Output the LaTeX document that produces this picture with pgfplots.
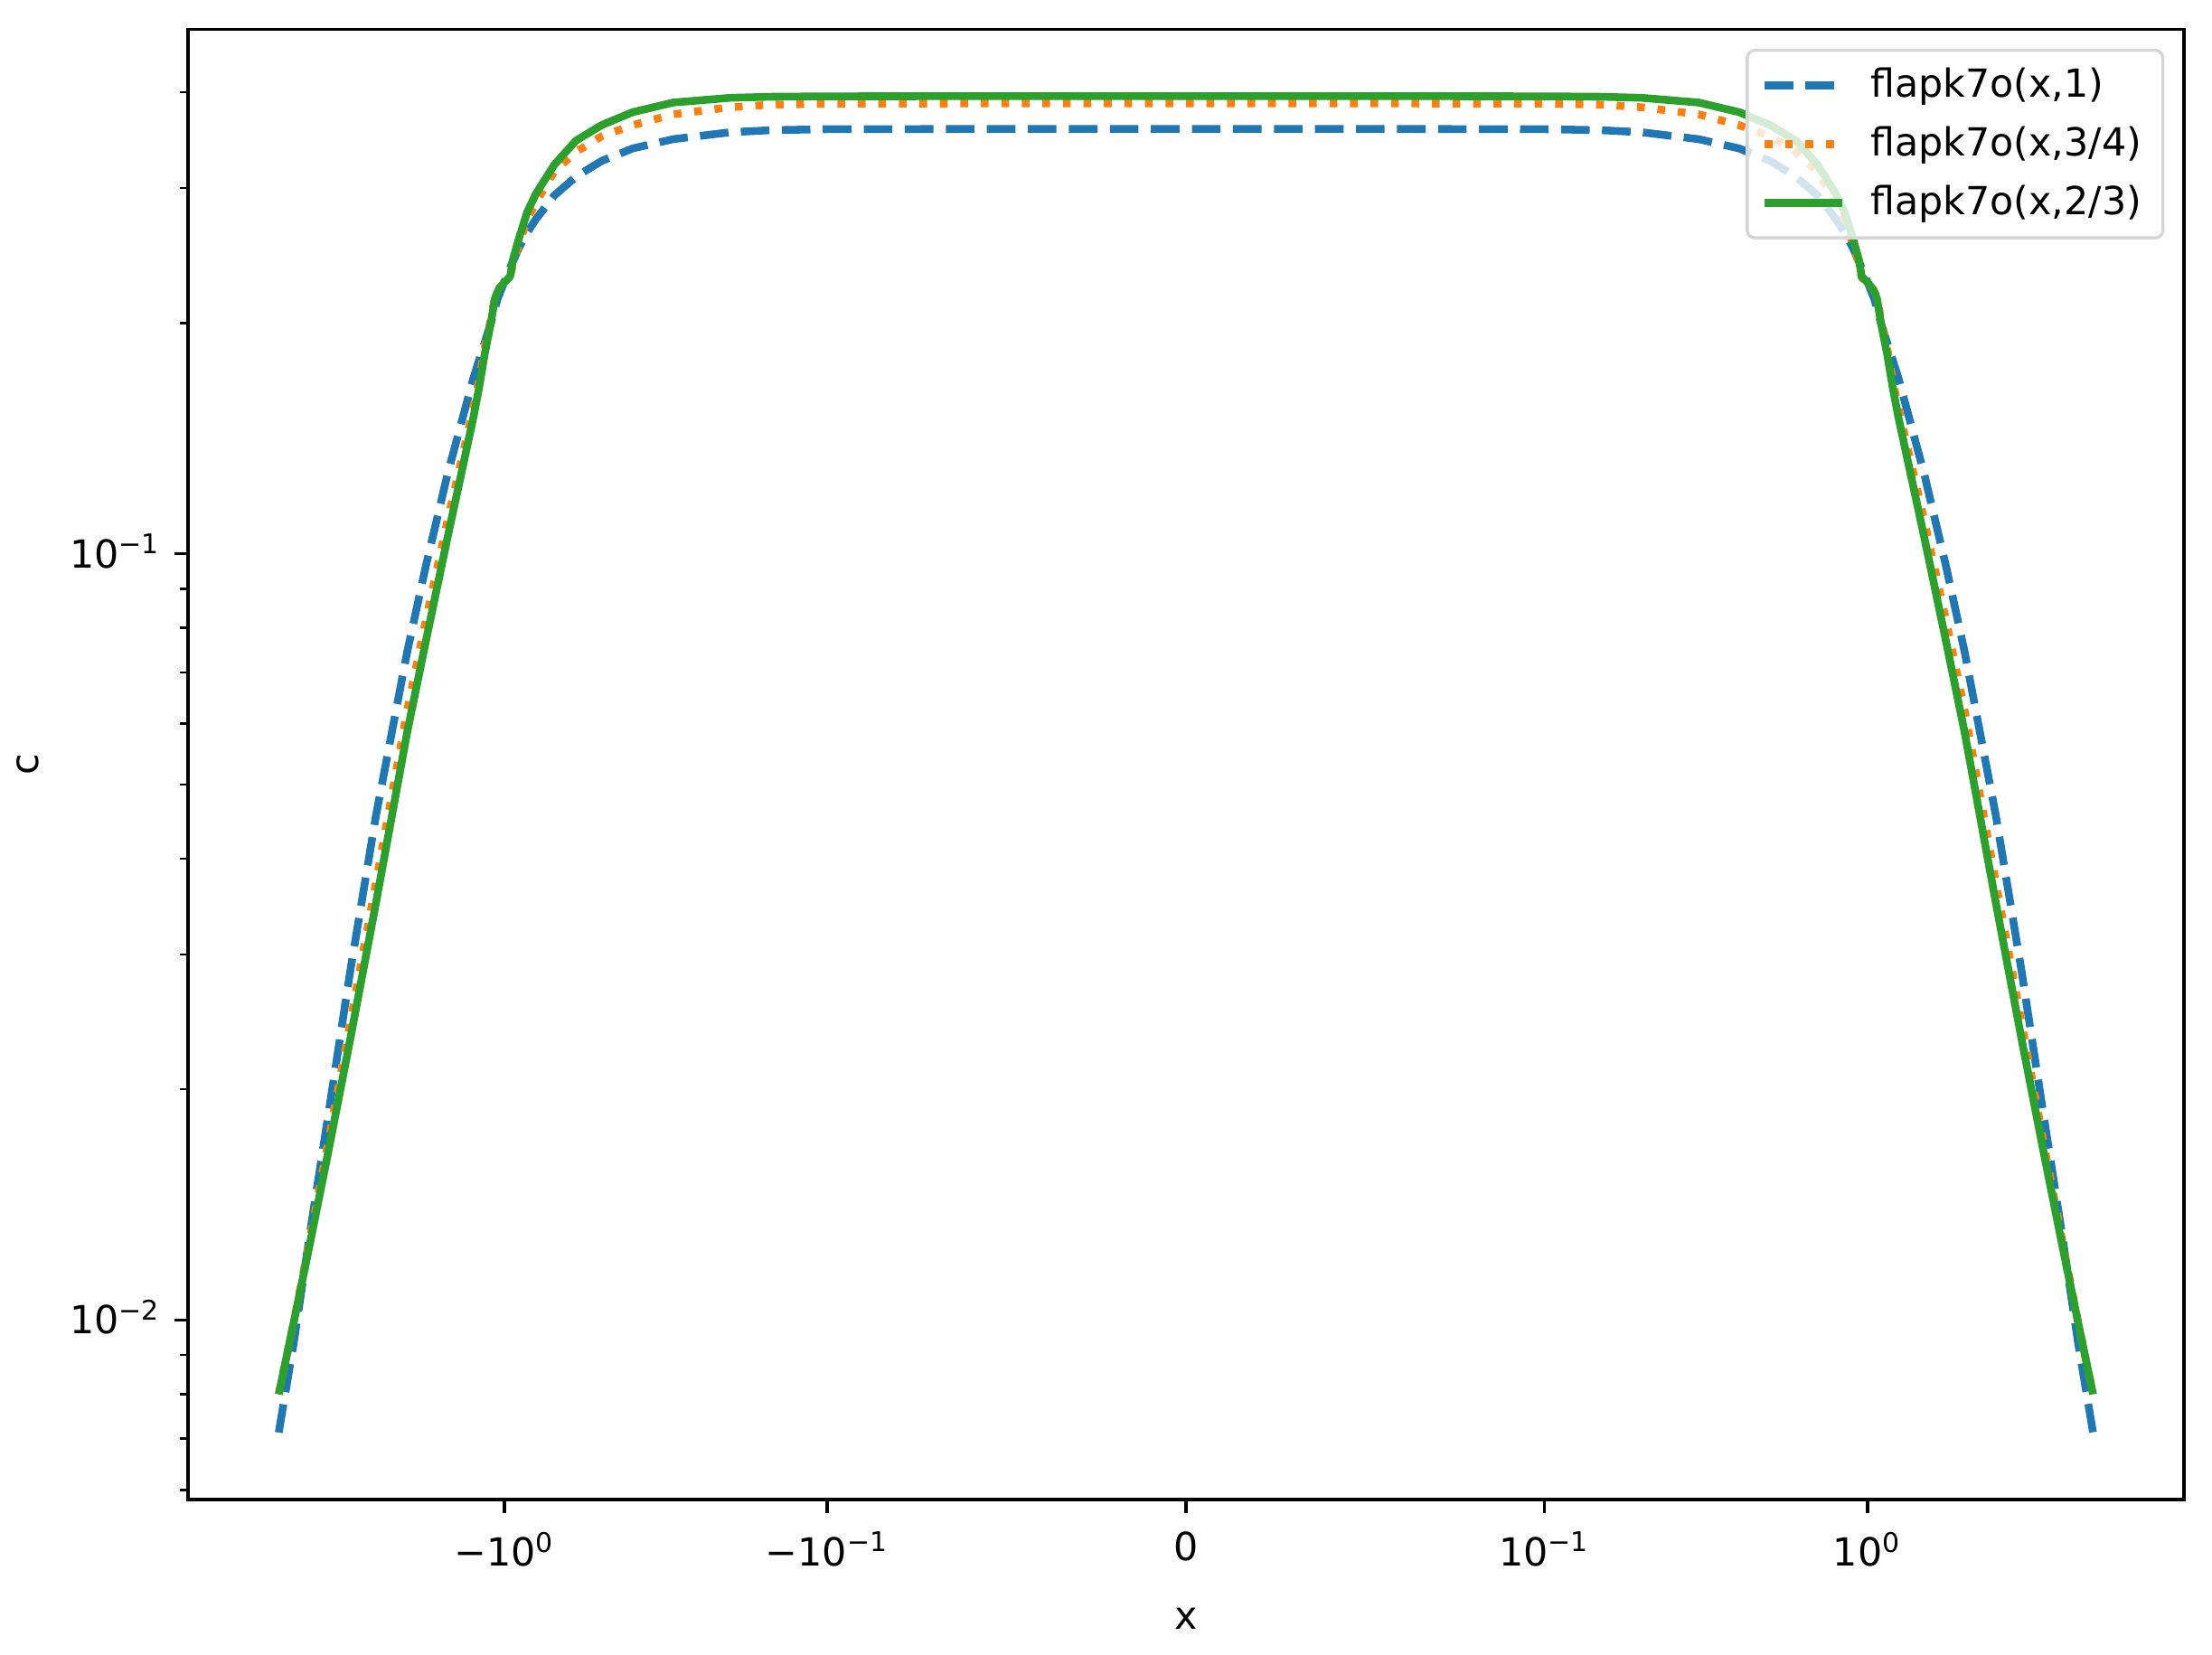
\documentclass[border=0pt]{standalone}
\usepackage{fontspec}
\setmainfont{DejaVu Sans}
\usepackage{pgfplots}
\pgfplotsset{compat=1.18}
\usepackage{pgfplotstable}

\definecolor{tabblue}{HTML}{1F77B4}
\definecolor{taborange}{HTML}{FF7F0E}
\definecolor{tabgreen}{HTML}{2CA02C}

% flapk7o(x,1)
\pgfplotstableread{
x c
-5.0 0.00713
-4.5 0.0093
-4.0 0.0130
-3.5 0.0187
-3.0 0.0286
-2.5 0.0455
-2.0 0.0745
-1.75 0.0965
-1.5 0.1270
-1.25 0.1690
-1.1 0.2003
-1.05 0.2150
-1.0 0.2265
-0.95 0.2385
-0.9 0.2510
-0.85 0.2625
-0.8 0.2730
-0.7 0.2935
-0.6 0.3105
-0.5 0.3255
-0.4 0.3380
-0.3 0.3475
-0.2 0.3548
-0.15 0.3570
-0.1 0.3581
-0.05 0.3584
0 0.3584
0.05 0.3584
0.1 0.3581
0.15 0.3570
0.2 0.3548
0.3 0.3475
0.4 0.3380
0.5 0.3255
0.6 0.3105
0.7 0.2935
0.8 0.2730
0.85 0.2625
0.9 0.2510
0.95 0.2385
1.0 0.2265
1.05 0.2150
1.1 0.2003
1.25 0.1690
1.5 0.1270
1.75 0.0965
2.0 0.0745
2.5 0.0455
3.0 0.0286
3.5 0.0187
4.0 0.0130
4.5 0.0093
5.0 0.00713
}\tblone

% flapk7o(x,3/4)
\pgfplotstableread{
x c
-5.0 0.0080
-4.5 0.0099
-4.0 0.0128
-3.5 0.0172
-3.0 0.0245
-2.5 0.0372
-2.0 0.0625
-1.75 0.0820
-1.5 0.1105
-1.25 0.1545
-1.2 0.1680
-1.15 0.1860
-1.1 0.2030
-1.07 0.2165
-1.04 0.2220
-1.0 0.2262
-0.96 0.2290
-0.94 0.2395
-0.9 0.2540
-0.85 0.2725
-0.8 0.2870
-0.7 0.3155
-0.6 0.3345
-0.5 0.3505
-0.4 0.3625
-0.3 0.3745
-0.2 0.3825
-0.15 0.3855
-0.1 0.3867
-0.05 0.3870
0 0.3870
0.05 0.3870
0.1 0.3867
0.15 0.3855
0.2 0.3825
0.3 0.3745
0.4 0.3625
0.5 0.3505
0.6 0.3345
0.7 0.3155
0.8 0.2870
0.85 0.2725
0.9 0.2540
0.94 0.2395
0.96 0.2290
1.0 0.2262
1.04 0.2220
1.07 0.2165
1.1 0.2030
1.15 0.1860
1.2 0.1680
1.25 0.1545
1.5 0.1105
1.75 0.0820
2.0 0.0625
2.5 0.0372
3.0 0.0245
3.5 0.0172
4.0 0.0128
4.5 0.0099
5.0 0.0080
}\tblthree

% flapk7o(x,2/3)
\pgfplotstableread{
x c
-5.0 0.0080
-4.5 0.0099
-4.0 0.0126
-3.5 0.0167
-3.0 0.0233
-2.5 0.0350
-2.0 0.0585
-1.75 0.0770
-1.5 0.1050
-1.25 0.1500
-1.2 0.1640
-1.15 0.1825
-1.1 0.2005
-1.07 0.2155
-1.04 0.2215
-1.0 0.2260
-0.96 0.2300
-0.94 0.2424
-0.9 0.2585
-0.85 0.2790
-0.8 0.2945
-0.7 0.3220
-0.6 0.3460
-0.5 0.3625
-0.4 0.3770
-0.3 0.3880
-0.2 0.3935
-0.15 0.3948
-0.1 0.3953
-0.05 0.3955
0 0.3955
0.05 0.3955
0.1 0.3953
0.15 0.3948
0.2 0.3935
0.3 0.3880
0.4 0.3770
0.5 0.3625
0.6 0.3460
0.7 0.3220
0.8 0.2945
0.85 0.2790
0.9 0.2585
0.94 0.2424
0.96 0.2300
1.0 0.2260
1.04 0.2215
1.07 0.2155
1.1 0.2005
1.15 0.1825
1.2 0.1640
1.25 0.1500
1.5 0.1050
1.75 0.0770
2.0 0.0585
2.5 0.0350
3.0 0.0233
3.5 0.0167
4.0 0.0126
4.5 0.0099
5.0 0.0080
}\tbltwo

\begin{document}
\begin{tikzpicture}
\path[use as bounding box] (-48.6pt,-40.0pt) rectangle (523.1pt,387.6pt);
\begin{axis}[
  at={(0pt,0pt)}, anchor=south west,
  scale only axis, width=515.8pt, height=380.0pt,
  x coord trafo/.code={\pgfmathparse{abs(#1)<=0.1 ? (#1)*11.111111 : sign(#1)*(1.111111+log10(max(abs(#1),0.1)*10))}},
  xmin=-9.55, xmax=9.55,
  ymode=log, ymin=0.00583, ymax=0.4833,
  xtick={-1,-0.1,0,0.1,1},
  xticklabels={−10\textsuperscript{0},−10\textsuperscript{−1},0,10\textsuperscript{−1},10\textsuperscript{0}},
  ytick={0.01,0.1},
  yticklabels={10\textsuperscript{−2},10\textsuperscript{−1}},
  minor ytick={0.006,0.007,0.008,0.009,0.02,0.03,0.04,0.05,0.06,0.07,0.08,0.09,0.2,0.3,0.4},
  tick align=outside,
  tick pos=left,
  major tick length=3.5pt, minor tick length=2pt,
  every major tick/.append style={line width=0.8pt, black},
  every minor tick/.append style={line width=0.6pt, black},
  axis line style={line width=0.8pt},
  tick label style={font=\fontsize{10}{12}\selectfont},
  xticklabel style={yshift=-1.4pt},
  yticklabel style={anchor=base east, yshift=-3.64pt},
  xlabel={x}, ylabel={c},
  xlabel style={at={([yshift=-33.6pt]axis description cs:0.5,0)}, anchor=base, font=\fontsize{10}{12}\selectfont},
  ylabel style={at={([xshift=-38.6pt]axis description cs:0,0.5)}, anchor=base, font=\fontsize{10}{12}\selectfont},
  legend style={at={(1,1)}, anchor=north east, xshift=-5pt, yshift=-5pt,
    draw=black!16, line width=0.8pt, rounded corners=2pt,
    fill=white, fill opacity=0.8, text opacity=1,
    inner xsep=3.5pt, inner ysep=2.5pt, row sep=2.1pt,
    font=\fontsize{10}{12}\selectfont,
    nodes={inner sep=2pt, text depth=0.15em},
    /tikz/every odd column/.append style={column sep=4.4pt}},
  legend cell align=left,
  legend image code/.code={\draw[#1] (0pt,0pt) -- (20pt,0pt);},
]
\addplot[tabblue, line width=2pt, line join=round, dash pattern=on 7.4pt off 3.2pt] table[x=x,y=c]{\tblone};
\addlegendentry{flapk7o(x,1)}
\addplot[taborange, line width=2pt, line join=round, dash pattern=on 2pt off 3.3pt] table[x=x,y=c]{\tblthree};
\addlegendentry{flapk7o(x,3/4)}
\addplot[tabgreen, line width=2pt, line join=round] table[x=x,y=c]{\tbltwo};
\addlegendentry{flapk7o(x,2/3)}
\end{axis}
\end{tikzpicture}
\end{document}
